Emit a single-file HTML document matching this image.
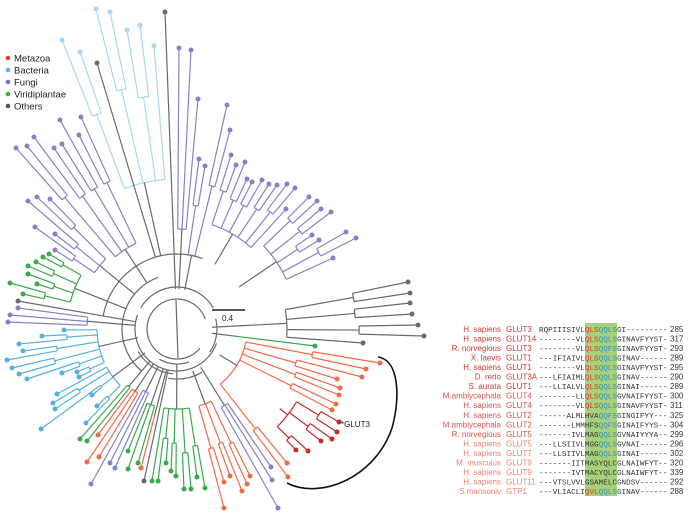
<!DOCTYPE html>
<html><head><meta charset="utf-8"><style>
html,body{margin:0;padding:0;background:#fff;}
svg{display:block;}
.nm{font-family:"Liberation Sans",sans-serif;font-size:8px;}
.sq{font-family:"Liberation Mono",monospace;font-size:7.65px;fill:#333;}
</style></head><body>
<svg id="s" width="700" height="525" viewBox="0 0 700 525" xmlns="http://www.w3.org/2000/svg">
<g id="tree" fill="none" stroke-width="1.2"></g>
<g id="dots"></g>
<g class="nm" style="font-size:9.5px" fill="#222">
<circle cx="8" cy="58" r="2.3" fill="#f03a2a"/><text x="14" y="61.5">Metazoa</text>
<circle cx="8" cy="70" r="2.3" fill="#5ab4e6"/><text x="14" y="73.5">Bacteria</text>
<circle cx="8" cy="82" r="2.3" fill="#7b72c0"/><text x="14" y="85.5">Fungi</text>
<circle cx="8" cy="94" r="2.3" fill="#3ab04a"/><text x="14" y="97.5">Viridiplantae</text>
<circle cx="8" cy="106" r="2.3" fill="#555"/><text x="14" y="109.5">Others</text>
</g>
<line x1="212" y1="310" x2="245" y2="310" stroke="#222" stroke-width="1.5"/>
<text x="222" y="321" class="nm" fill="#222">0.4</text>
<path d="M378,357 C400,360 400,400 392,428 C375,478 320,500 287,483" fill="none" stroke="#111" stroke-width="1.6"/>
<text x="341" y="427" class="nm" fill="#222">*GLUT3</text>
<g id="tbl"></g>
</svg>
<script>
var NS="http://www.w3.org/2000/svg";
var cx=177,cy=329;
var T=document.getElementById('tree'),D=document.getElementById('dots');
function el(p,t,a){var e=document.createElementNS(NS,t);for(var k in a)e.setAttribute(k,a[k]);p.appendChild(e);return e;}
function ang(x,y){var a=Math.atan2(y-cy,x-cx)*180/Math.PI;if(a<-20)a+=360;return a;}
function rad(x,y){return Math.sqrt((x-cx)*(x-cx)+(y-cy)*(y-cy));}
function P(r,a){a=a*Math.PI/180;return [cx+r*Math.cos(a),cy+r*Math.sin(a)];}
function arc(r,a1,a2,c){if(a2<a1){var t=a1;a1=a2;a2=t;}if(a2-a1<0.01)return;var p=P(r,a1),q=P(r,a2);el(T,'path',{d:'M'+p[0]+','+p[1]+' A'+r+','+r+' 0 '+((a2-a1)>180?1:0)+' 1 '+q[0]+','+q[1],stroke:c});}
function ln(p,q,c){el(T,'line',{x1:p[0],y1:p[1],x2:q[0],y2:q[1],stroke:c});}
var G='#6a6a6a',R='#f4694a',DR='#c42a2a',B='#58b0e2',LB='#a9d8f0',PU='#8782c8',GR='#3aaa4a';
var clades=[
[LB,150,[[96,9],[110,12],[127,30],[140,25],[154,46],[62,40],[80,52]],75],
[G,110,[[165,12]],40],[G,140,[[97,63]],75],
[PU,100,[[179,48],[191,50],[198,99]],40],
[PU,75,[[227,105],[230,130],[199,159],[205,166]],40],
[PU,110,[[231,155],[236,165],[245,162],[247,179],[252,182],[262,180],[269,184],[277,185],[287,184],[295,188],[286,209]],75],
[PU,120,[[309,197],[317,201],[321,209],[331,212],[312,235],[319,240],[346,232],[356,238],[333,258]],75],
[PU,95,[[16,148],[27,146],[34,137],[60,120],[81,117],[54,148],[62,144],[79,135]],55],
[PU,100,[[28,201],[37,197],[50,199],[35,227],[55,234],[55,250]],55],
[GR,110,[[49,254],[43,257],[36,262],[28,266],[28,274],[37,284],[10,283],[23,294]],55],
[G,60,[[18,301]],42],[PU,90,[[18,308],[10,315],[8,322]],42],
[B,80,[[64,330],[42,336],[19,344],[23,351],[7,360],[12,368],[19,374],[27,379],[62,373],[77,372],[79,377]],40],
[B,80,[[57,394],[53,403],[55,409],[92,395],[97,406],[86,423],[41,429]],40],
[GR,75,[[80,439],[87,441]],42],[R,75,[[98,435],[87,462],[99,457]],42],
[PU,70,[[91,484],[110,463],[115,468]],42],
[GR,80,[[128,451],[128,469],[138,463]],42],[R,90,[[141,468]],42],[G,60,[[144,481]],42],
[GR,80,[[152,481],[158,481],[166,463],[171,471],[176,476],[184,489],[191,489],[197,477],[205,488]],35],
[R,80,[[224,508],[224,482],[230,476],[242,491],[247,484],[250,476]],45],
[PU,90,[[278,508],[272,480],[271,467]],45],
[R,70,[[288,477],[287,463],[380,363],[366,369],[362,377],[337,379],[340,388],[339,395],[336,404],[332,410]],50],
[DR,140,[[308,451],[296,450],[321,441],[332,439],[337,432],[339,422]],130],
[G,110,[[408,282],[410,293],[410,303],[412,314],[418,325],[424,336],[363,343]],35],
[GR,60,[[315,346]],35]
];
clades.forEach(function(c){
 var col=c[0],r0=c[1],L=c[2].slice(),rp=c[3];
 L.forEach(function(p){p.a=ang(p[0],p[1]);p.r=rad(p[0],p[1]);});
 L.sort(function(a,b){return a.a-b.a;});
 var mids=[];
 if(L.length>=4){
  for(var i=0;i<L.length;i+=2){
   var g=L.slice(i,i+2);
   var rmin=Math.min.apply(null,g.map(function(p){return p.r;}));
   var r1=r0+0.55*(rmin-r0);
   var ma=g.reduce(function(s,p){return s+p.a;},0)/g.length;
   if(g.length==1){ln(P(r0,g[0].a),g[0],col);mids.push(g[0].a);continue;}
   g.forEach(function(p){ln(P(r1,p.a),p,col);});
   arc(r1,g[0].a,g[g.length-1].a,col);
   ln(P(r0,ma),P(r1,ma),col);mids.push(ma);
  }
 } else {L.forEach(function(p){ln(P(r0,p.a),p,col);mids.push(p.a);});}
 var mn=Math.min.apply(null,mids),mx=Math.max.apply(null,mids),md=(mn+mx)/2;
 arc(r0,mn,mx,col);
 ln(P(rp,md),P(r0,md),(rp>=100?col:G));
 L.forEach(function(p){el(D,'circle',{cx:p[0],cy:p[1],r:2.5,fill:col});});
});
arc(30,40,340,G);arc(35,70,120,G);arc(42,20,200,G);arc(42,210,330,G);arc(55,130,250,G);arc(40,-15,35,G);
arc(75,190,290,G);arc(45,95,150,G);arc(50,60,100,G);
ln([176,300],[178,358],G);
var tb=document.getElementById('tbl');
var rows=[
["H. sapiens","GLUT3","RQPIIISIVLQLSQQLSGI---------",285],
["H. sapiens","GLUT14","--------VLQLSQQLSGINAVFYYST-",317],
["R. norvegious","GLUT3","--------VLQLSQQFSGINAVFYYST-",293],
["X. laevis","GLUT1","---IFIAIVLQLSQQLSGINAV------",289],
["H. sapiens","GLUT1","--------VLQLSQQLSGINAVFYYST-",295],
["D. rerio","GLUT3A","---LFIAIMLQLSQQLSGINAV------",290],
["S. aurata","GLUT1","---LLIALVLQLSQQLSGINAI------",289],
["M.amblycephala","GLUT4","--------LLQLSQQLSGVNAIFYYST-",300],
["H. sapiens","GLUT4","--------VLQLSQQLSGINAVFYYST-",311],
["H. sapiens","GLUT2","------ALMLHVAQQFSGINGIFYY---",325],
["M.amblycephala","GLUT2","-------LMMHFSQQFSGINAIFYYS--",304],
["R. norvegious","GLUT5","-------IVLMAGQQLSGVNAIYYYA--",299],
["H. sapiens","GLUT5","---LLSIIVLMGGQQLSGVNAI------",296],
["H. sapiens","GLUT7","---LLSIIVLMAGQQLSGINAI------",302],
["M. musculus","GLUT9","-------IITMASYQLCGLNAIWFYT--",320],
["H. sapiens","GLUT9","-------IVTMACYQLCGLNAIWFYT--",339],
["H. sapiens","GLUT11","---VTSLVVLGSAMELCGNDSV------",292],
["S.mansoniv","GTP1","---VLIACLIQVLQQLSGINAV------",288]];
el(tb,'rect',{x:585,y:323,width:32,height:173,fill:'#a8d27a'});
rows.forEach(function(r,i){
 var y=332+i*9.53;
 var nc=i<7?'#cf3a34':(i<12?'#e0514a':'#ee8070');
 var t=el(tb,'text',{x:501,y:y,'text-anchor':'end','class':'nm',fill:nc});t.textContent=r[0];
 t=el(tb,'text',{x:506,y:y,'class':'nm',fill:nc});t.textContent=r[1];
 var s=r[2];var st=el(tb,'text',{x:539,y:y,'class':'sq'});
 var parts=[[s.slice(0,10),'#333'],[s.slice(10,13),i<9||i==17?'#e0302a':'#333'],[s.slice(13,17),(i<14||i==17)?'#2a8fd0':'#333'],[s.slice(17),'#333']];
 parts.forEach(function(p){var ts=el(st,'tspan',{fill:p[1]});ts.textContent=p[0];});
 t=el(tb,'text',{x:670,y:y,'class':'nm',fill:'#333'});t.textContent=r[3];
});
</script>
</body></html>
